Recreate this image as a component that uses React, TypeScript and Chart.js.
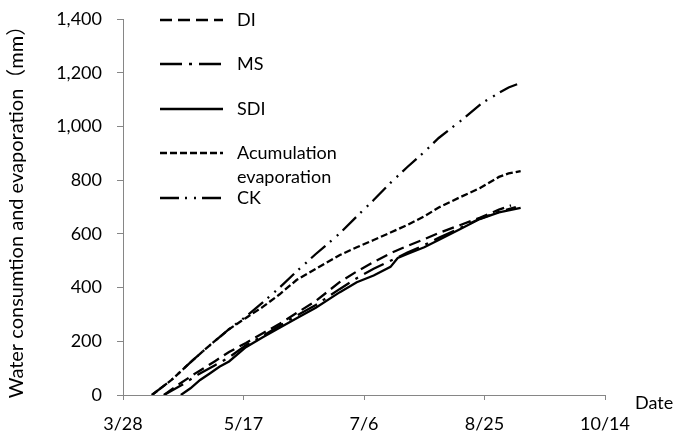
import { useEffect, useRef } from "react";
import { Chart, registerables } from "chart.js";
Chart.register(...registerables);

const xTickDays = [0, 50, 100, 150, 200];
const xTickLabels = ["3/28", "5/17", "7/6", "8/25", "10/14"];
const yTicks = [0, 200, 400, 600, 800, 1000, 1200, 1400];

const diDays = [17, 24, 31, 38, 44, 51, 58, 65, 72, 80, 90, 97, 104, 111, 118, 125, 131, 140, 148, 156, 161];
const diValues = [0, 45, 86, 125, 160, 194, 230, 265, 305, 350, 421, 460, 495, 528, 555, 580, 603, 633, 660, 690, 706];

const msDays = [17, 24, 31, 38, 44, 51, 58, 65, 72, 80, 90, 97, 104, 111, 118, 125, 131, 140, 148, 156, 163];
const msValues = [0, 35, 75, 110, 140, 185, 220, 258, 295, 335, 395, 435, 470, 500, 530, 558, 585, 622, 656, 682, 700];

const sdiDays = [24, 28, 32, 36, 40, 44, 51, 58, 65, 73, 80, 90, 97, 104, 111, 114, 118, 125, 131, 140, 148, 156, 165];
const sdiValues = [0, 25, 56, 80, 105, 125, 178, 215, 250, 290, 325, 383, 420, 445, 477, 510, 525, 550, 577, 618, 655, 680, 697];

const evapDays = [12, 20, 29, 36, 44, 51, 58, 65, 72, 80, 90, 97, 104, 111, 118, 125, 131, 140, 148, 156, 160, 165];
const evapValues = [0, 55, 130, 185, 245, 287, 328, 375, 428, 470, 521, 550, 577, 605, 633, 665, 698, 737, 770, 812, 825, 834];

const ckDays = [12, 20, 29, 36, 44, 51, 58, 65, 72, 80, 90, 97, 104, 111, 118, 125, 131, 140, 149, 156, 160, 165];
const ckValues = [0, 55, 130, 185, 245, 292, 345, 400, 460, 525, 602, 665, 726, 790, 849, 905, 957, 1020, 1087, 1125, 1145, 1162];

const FONT = "Lato, 'Noto Sans CJK SC', sans-serif";

const pts = (d: number[], v: number[]) => d.map((x, i) => ({ x, y: v[i] }));

const insideLegend = {
  id: "insideLegend",
  afterDraw(chart: any) {
    const { ctx, chartArea } = chart;
    const lx0 = chartArea.left + 37;
    const lx1 = chartArea.left + 100;
    const tx = chartArea.left + 114;
    const rows = [
      { i: 0, dy: 1, text: ["DI"] },
      { i: 1, dy: 45, text: ["MS"] },
      { i: 2, dy: 90, text: ["SDI"] },
      { i: 3, dy: 134, text: ["Acumulation", "evaporation"] },
      { i: 4, dy: 179, text: ["CK"] },
    ];
    ctx.save();
    ctx.font = `18px ${FONT}`;
    ctx.fillStyle = "#000";
    ctx.textBaseline = "middle";
    ctx.textAlign = "left";
    rows.forEach((r) => {
      const ds = chart.data.datasets[r.i];
      const y = chartArea.top + r.dy;
      ctx.strokeStyle = "#000";
      ctx.lineWidth = ds.borderWidth;
      ctx.setLineDash(ds.borderDash || []);
      ctx.beginPath();
      ctx.moveTo(lx0, y);
      ctx.lineTo(lx1, y);
      ctx.stroke();
      r.text.forEach((t, k) => ctx.fillText(t, tx, y + k * 24));
    });
    ctx.setLineDash([]);
    ctx.fillText("Date", chartArea.right + 30, chartArea.bottom + 8);
    ctx.restore();
  },
};

export default function App() {
  const ref = useRef<HTMLCanvasElement>(null);
  useEffect(() => {
    const mk = (label: string, d: number[], v: number[], dash: number[], w = 2.3) => ({
      label,
      data: pts(d, v),
      borderColor: "#000",
      backgroundColor: "#000",
      borderWidth: w,
      borderDash: dash,
      pointRadius: 0,
      fill: false,
      tension: 0,
    });
    const chart = new Chart(ref.current!, {
      type: "line",
      data: {
        datasets: [
          mk("DI", diDays, diValues, [12, 6]),
          mk("MS", msDays, msValues, [22, 7, 3, 7]),
          mk("SDI", sdiDays, sdiValues, []),
          mk("Acumulation evaporation", evapDays, evapValues, [7, 3]),
          mk("CK", ckDays, ckValues, [19, 6, 2, 7, 2, 6]),
        ],
      },
      options: {
        animation: false,
        responsive: true,
        maintainAspectRatio: false,
        layout: { padding: { top: 19, right: 72, bottom: 0, left: 0 } },
        plugins: { legend: { display: false }, tooltip: { enabled: false } },
        scales: {
          x: {
            type: "linear",
            min: 0,
            max: 200,
            afterBuildTicks: (s: any) => {
              s.ticks = xTickDays.map((v) => ({ value: v }));
            },
            afterFit: (s: any) => {
              s.height = 46;
            },
            ticks: {
              font: { family: FONT, size: 18 },
              color: "#000",
              padding: 13,
              maxRotation: 0,
              autoSkip: false,
              callback: (v: any) => xTickLabels[xTickDays.indexOf(Number(v))] ?? "",
            },
            grid: { display: true, drawOnChartArea: false, drawTicks: true, tickLength: 5, color: "#868686" },
            border: { color: "#868686", width: 1 },
          },
          y: {
            min: 0,
            max: 1400,
            afterBuildTicks: (s: any) => {
              s.ticks = yTicks.map((v) => ({ value: v }));
            },
            afterFit: (s: any) => {
              s.width = 123;
              s.paddingTop = 0;
            },
            ticks: {
              font: { family: FONT, size: 18 },
              color: "#000",
              padding: 15,
              callback: (v: any) => Number(v).toLocaleString("en-US"),
            },
            grid: { display: true, drawOnChartArea: false, drawTicks: true, tickLength: 6, color: "#868686" },
            border: { color: "#868686", width: 1 },
            title: {
              display: true,
              text: "Water consumtion and evaporation（mm）",
              font: { family: FONT, size: 20 },
              color: "#000",
              padding: { top: 5, bottom: 0 },
            },
          },
        },
      },
      plugins: [insideLegend],
    });
    return () => chart.destroy();
  }, []);
  return (
    <div style={{ position: "absolute", left: 0, top: 0, width: 677, height: 441, background: "#fff" }}>
      <canvas ref={ref} />
    </div>
  );
}
